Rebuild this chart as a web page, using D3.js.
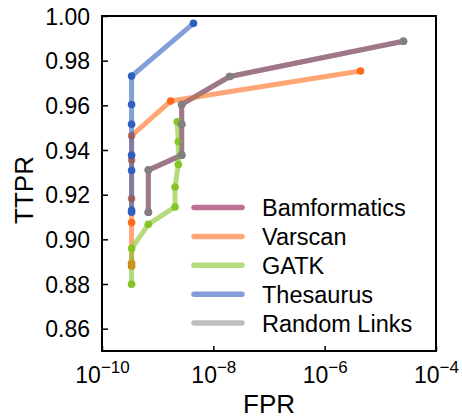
<!DOCTYPE html>
<html>
<head>
<meta charset="utf-8">
<script src="https://cdn.jsdelivr.net/npm/d3@7"></script>
<style>
  body { margin: 0; background: #fff; }
  text { font-family: "Liberation Sans", Arial, sans-serif; fill: #000; }
</style>
</head>
<body>
<div id="chart"></div>
<script>
// chart values
var xTickValues = [1e-10, 1e-8, 1e-6, 1e-4];
var xTickExps = ["\u221210", "\u22128", "\u22126", "\u22124"];
var yTickValues = [0.86, 0.88, 0.90, 0.92, 0.94, 0.96, 0.98, 1.00];

var seriesNames = ["Bamformatics", "Varscan", "GATK", "Thesaurus", "Random Links"];

var bamFPR = [6.8e-10, 6.8e-10, 2.7e-9, 2.7e-9, 2.7e-9, 1.97e-8, 2.6e-5];
var bamTTPR = [0.9121, 0.9310, 0.9377, 0.9515, 0.9604, 0.9729, 0.9887];

var varFPR = [3.4e-10, 3.4e-10, 3.4e-10, 3.4e-10, 3.4e-10, 3.4e-10, 1.71e-9, 4.4e-6];
var varTTPR = [0.8880, 0.8893, 0.9075, 0.9183, 0.9355, 0.9464, 0.9619, 0.9754];

var gatkFPR = [3.4e-10, 3.4e-10, 6.8e-10, 2.05e-9, 2.05e-9, 2.35e-9, 2.35e-9, 2.25e-9];
var gatkTTPR = [0.8799, 0.8959, 0.9067, 0.9145, 0.9234, 0.9335, 0.9437, 0.9526];

var thesFPR = [3.4e-10, 3.4e-10, 3.4e-10, 3.4e-10, 3.4e-10, 3.4e-10, 3.4e-10, 4.4e-9];
var thesTTPR = [0.9121, 0.9130, 0.9308, 0.9377, 0.9515, 0.9604, 0.9731, 0.9967];

var randFPR = [6.8e-10, 6.8e-10, 2.7e-9, 2.7e-9, 2.7e-9, 1.97e-8, 2.6e-5];
var randTTPR = [0.9121, 0.9310, 0.9377, 0.9515, 0.9604, 0.9729, 0.9887];

var svgWidth = 462;
var svgHeight = 418;

var margin = { top: 16, right: 26, bottom: 67, left: 102 };
var width = svgWidth - margin.left - margin.right;
var height = svgHeight - margin.top - margin.bottom;

var colors = ["#a33a68", "#ff6a1a", "#84c424", "#2f5fbf", "#808080"];
var lineOpacity = [0.72, 0.6, 0.6, 0.6, 0.5];

var series = [
  { fpr: bamFPR, ttpr: bamTTPR },
  { fpr: varFPR, ttpr: varTTPR },
  { fpr: gatkFPR, ttpr: gatkTTPR },
  { fpr: thesFPR, ttpr: thesTTPR },
  { fpr: randFPR, ttpr: randTTPR }
].map(function(s, i) {
  return {
    name: seriesNames[i],
    color: colors[i],
    opacity: lineOpacity[i],
    points: s.fpr.map(function(f, j) { return { x: f, y: s.ttpr[j] }; })
  };
});

var svg = d3.select("#chart")
  .append("svg")
  .attr("width", svgWidth)
  .attr("height", svgHeight);

var chartGroup = svg.append("g")
  .attr("transform", `translate(${margin.left}, ${margin.top})`);

var xScale = d3.scaleLog().domain([1e-10, 1e-4]).range([0, width]);
var yScale = d3.scaleLinear().domain([0.85, 1.0]).range([height, 0]);

// axes (ticks point inward)
var bottomAxis = d3.axisBottom(xScale)
  .tickValues(xTickValues)
  .tickSizeInner(-5)
  .tickSizeOuter(0)
  .tickPadding(12)
  .tickFormat(function() { return ""; });

var leftAxis = d3.axisLeft(yScale)
  .tickValues(yTickValues)
  .tickSizeInner(-6)
  .tickSizeOuter(0)
  .tickPadding(12)
  .tickFormat(d3.format(".2f"));

var xAxis = chartGroup.append("g")
  .attr("transform", `translate(0, ${height})`)
  .call(bottomAxis);

xAxis.selectAll(".tick text")
  .attr("dy", null)
  .attr("y", 32)
  .style("font-size", "23px")
  .each(function(d, i) {
    var t = d3.select(this);
    t.append("tspan").text("10");
    t.append("tspan")
      .attr("dy", -10)
      .style("font-size", "17px")
      .text(xTickExps[i]);
  });

var yAxis = chartGroup.append("g").call(leftAxis);
yAxis.selectAll(".tick text")
  .style("font-size", "23px")
  .attr("dy", "0.36em");

chartGroup.selectAll(".domain").remove();
chartGroup.selectAll(".tick line").attr("stroke", "#000").attr("stroke-width", 1.5);

// lines and markers
var line = d3.line()
  .x(d => xScale(d.x))
  .y(d => yScale(d.y));

series.forEach(function(s) {
  var g = chartGroup.append("g");
  g.append("path")
    .datum(s.points)
    .attr("d", line)
    .attr("fill", "none")
    .attr("stroke", s.color)
    .attr("stroke-opacity", s.opacity)
    .attr("stroke-width", 5)
    .attr("stroke-linejoin", "round")
    .attr("stroke-linecap", "round");
  g.selectAll("circle")
    .data(s.points)
    .enter()
    .append("circle")
    .attr("cx", d => xScale(d.x))
    .attr("cy", d => yScale(d.y))
    .attr("r", 3.8)
    .attr("fill", s.color);
});

// frame
chartGroup.append("rect")
  .attr("width", width)
  .attr("height", height)
  .attr("fill", "none")
  .attr("stroke", "#000")
  .attr("stroke-width", 2);

// legend
var legend = chartGroup.append("g")
  .attr("transform", "translate(92, 191.5)");

series.forEach(function(s, i) {
  var row = legend.append("g").attr("transform", `translate(0, ${i * 28.9})`);
  row.append("line")
    .attr("x1", 0).attr("x2", 48)
    .attr("stroke", s.color)
    .attr("stroke-opacity", s.opacity)
    .attr("stroke-width", 5.5)
    .attr("stroke-linecap", "round");
  row.append("text")
    .attr("x", 68)
    .attr("dy", "0.36em")
    .style("font-size", "23.5px")
    .text(s.name);
});

// axis labels
svg.append("text")
  .attr("x", margin.left + width / 2)
  .attr("y", 413)
  .attr("text-anchor", "middle")
  .style("font-size", "26px")
  .text("FPR");

svg.append("text")
  .attr("transform", "translate(33, 190) rotate(-90)")
  .attr("text-anchor", "middle")
  .style("font-size", "26px")
  .text("TTPR");
</script>
</body>
</html>
